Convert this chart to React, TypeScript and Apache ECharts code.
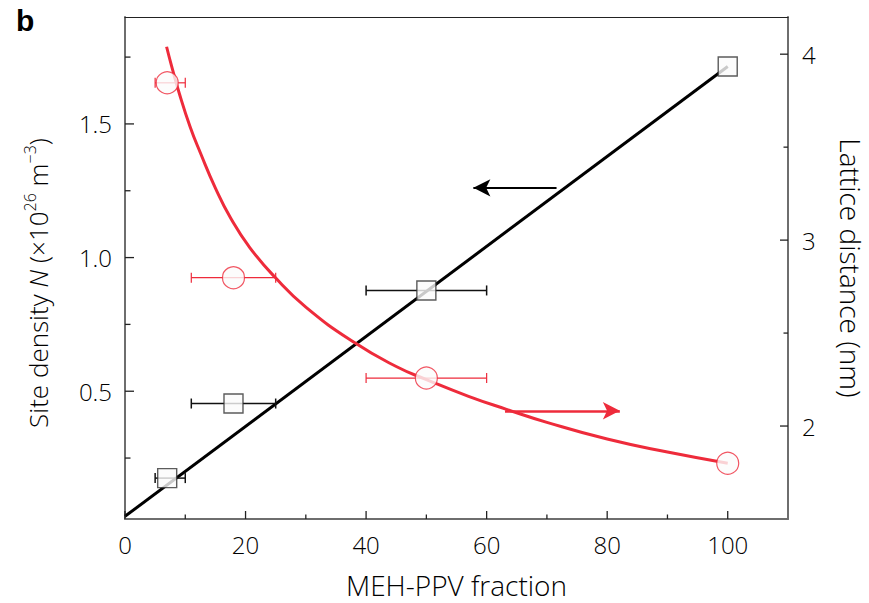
import React, { useEffect, useRef } from "react";
import * as echarts from "echarts";

// ---- data ----
const fraction = [7, 18, 50, 100];
const siteDensity = [0.175, 0.454, 0.877, 1.715];
const densityErrLow = [5, 11, 40, 100];
const densityErrHigh = [10, 25, 60, 100];

const latticeDistance = [3.846, 2.798, 2.258, 1.8];
const latticeErrLow = [5, 11, 40, 100];
const latticeErrHigh = [10, 25, 60, 100];

const fitX = [0, 100];
const fitDensity = [0.032, 1.715];

const curveX = [6.9, 7.7, 9, 10.8, 12.5, 15, 17.5, 20.7, 24.9, 30, 38, 45, 50, 57, 63.3, 70, 80, 90, 100];
const curveDistance = [4.04, 3.94, 3.79, 3.61, 3.47, 3.28, 3.12, 2.96, 2.8, 2.64, 2.45, 2.32, 2.25, 2.16, 2.09, 2.02, 1.93, 1.86, 1.8];

const densityArrowX = [71.6, 57.8];
const densityArrowY = 1.261;
const latticeArrowX = [63.05, 82.1];
const latticeArrowY = 2.082;

const xMajorTicks = [0, 20, 40, 60, 80, 100];
const xMinorTicks = [10, 30, 50, 70, 90];
const leftMajorTicks = [0.5, 1.0, 1.5];
const leftMinorTicks = [0.25, 0.75, 1.25, 1.75];
const rightMajorTicks = [2, 3, 4];
const rightMinorTicks = [2.5, 3.5];

const RED = "#EE2B3B";
const AXIS = "#6e6e6e";
const FONT = '"Open Sans", "Noto Sans", sans-serif';
const TXT = "#000";

const X_MIN = 0, X_MAX = 110;
const L_MIN = 0.022, L_MAX = 1.9;
const R_MIN = 1.5, R_MAX = 4.2;

function errorData(xs: number[], ys: number[], lo: number[], hi: number[]) {
  const out: number[][] = [];
  for (let i = 0; i < xs.length; i++) {
    if (lo[i] !== hi[i]) out.push([xs[i], ys[i], lo[i], hi[i]]);
  }
  return out;
}

function makeErrorRender(color: string, width: number) {
  return (params: any, api: any) => {
    const y = api.value(1);
    const p1 = api.coord([api.value(2), y]);
    const p2 = api.coord([api.value(3), y]);
    const h = 5;
    const style = { stroke: color, lineWidth: width, fill: "none" };
    return {
      type: "group",
      children: [
        { type: "line", shape: { x1: p1[0], y1: p1[1], x2: p2[0], y2: p2[1] }, style },
        { type: "line", shape: { x1: p1[0], y1: p1[1] - h, x2: p1[0], y2: p1[1] + h }, style },
        { type: "line", shape: { x1: p2[0], y1: p2[1] - h, x2: p2[0], y2: p2[1] + h }, style },
      ],
    };
  };
}

const TICK_STYLE = { stroke: "#222", lineWidth: 1.3, fill: "none" };

// side: 0 = bottom (x), 1 = left (y), 2 = right (y)
function makeTickRender(side: number) {
  return (params: any, api: any) => {
    const v = api.value(0);
    const len = api.value(1);
    let shape;
    if (side === 0) {
      const p = api.coord([v, L_MIN]);
      shape = { x1: p[0], y1: p[1], x2: p[0], y2: p[1] - len };
    } else if (side === 1) {
      const p = api.coord([X_MIN, v]);
      shape = { x1: p[0], y1: p[1], x2: p[0] + len, y2: p[1] };
    } else {
      const p = api.coord([X_MAX, v]);
      shape = { x1: p[0], y1: p[1], x2: p[0] - len, y2: p[1] };
    }
    return { type: "line", shape, style: TICK_STYLE };
  };
}

function tickData(major: number[], minor: number[], majorLen: number, minorLen: number) {
  return [...major.map((v) => [v, majorLen]), ...minor.map((v) => [v, minorLen])];
}

export default function App() {
  const ref = useRef<HTMLDivElement>(null);
  useEffect(() => {
    if (!ref.current) return;
    const chart = echarts.init(ref.current, undefined, { renderer: "svg" });
    const labelStyle = { fontFamily: FONT, fontSize: 24, color: TXT, fontWeight: 300 as any };
    const nameBase = { fontFamily: FONT, fontSize: 26, color: TXT, fontWeight: 300 as any, lineHeight: 32 };
    const option: any = {
      animation: false,
      grid: { left: 125, right: 81, top: 17, bottom: 84, outerBoundsMode: "none" },
      graphic: [
        {
          type: "text",
          left: 16,
          top: 5,
          style: { text: "b", font: 'bold 30px "Liberation Sans", Arial, sans-serif', fill: "#000" },
        },
      ],
      xAxis: [
        {
          type: "value",
          position: "bottom",
          min: X_MIN,
          max: X_MAX,
          name: "MEH-PPV fraction",
          nameLocation: "middle",
          nameGap: 52,
          nameTextStyle: { fontFamily: FONT, fontSize: 28, color: TXT, fontWeight: 300 },
          axisLine: { show: true, onZero: false, lineStyle: { color: AXIS, width: 2 } },
          axisTick: { show: false },
          axisLabel: { show: true, customValues: xMajorTicks, margin: 13, ...labelStyle },
          splitLine: { show: false },
        },
        {
          type: "value",
          position: "top",
          min: X_MIN,
          max: X_MAX,
          axisLine: { show: true, onZero: false, lineStyle: { color: "#222", width: 1.2 } },
          axisTick: { show: false },
          axisLabel: { show: false },
          splitLine: { show: false },
        },
      ],
      yAxis: [
        {
          type: "value",
          position: "left",
          min: L_MIN,
          max: L_MAX,
          name: "{a|Site density }{i|N}{a| (×10}{s|26}{a| m}{s|−3}{a|)}",
          nameLocation: "middle",
          nameRotate: 90,
          nameGap: 71,
          nameTextStyle: {
            padding: [0, 30, 0, 0],
            rich: {
              a: { ...nameBase },
              i: { ...nameBase, fontStyle: "italic" },
              s: { fontFamily: FONT, fontSize: 16, color: TXT, fontWeight: 300, lineHeight: 20, verticalAlign: "top" },
            },
          },
          axisLine: { show: true, onZero: false, lineStyle: { color: AXIS, width: 2 } },
          axisTick: { show: false },
          axisLabel: {
            show: true,
            customValues: leftMajorTicks,
            margin: 13,
            formatter: (v: number) => v.toFixed(1),
            ...labelStyle,
          },
          splitLine: { show: false },
        },
        {
          type: "value",
          position: "right",
          min: R_MIN,
          max: R_MAX,
          name: "Lattice distance (nm)",
          nameLocation: "middle",
          nameRotate: -90,
          nameGap: 49,
          nameTextStyle: { fontFamily: FONT, fontSize: 28, color: TXT, fontWeight: 300 },
          axisLine: { show: true, onZero: false, lineStyle: { color: AXIS, width: 2 } },
          axisTick: { show: false },
          axisLabel: {
            show: true,
            customValues: rightMajorTicks,
            margin: 14,
            formatter: (v: number) => String(v),
            ...labelStyle,
          },
          splitLine: { show: false },
        },
      ],
      series: [
        {
          type: "custom",
          xAxisIndex: 0,
          yAxisIndex: 0,
          data: tickData(xMajorTicks, xMinorTicks, 8, 4.5),
          encode: { x: 0 },
          renderItem: makeTickRender(0),
          z: 5,
          silent: true,
        },
        {
          type: "custom",
          xAxisIndex: 0,
          yAxisIndex: 0,
          data: tickData(leftMajorTicks, leftMinorTicks, 9, 5.5),
          encode: { y: 0 },
          renderItem: makeTickRender(1),
          z: 5,
          silent: true,
        },
        {
          type: "custom",
          xAxisIndex: 0,
          yAxisIndex: 1,
          data: tickData(rightMajorTicks, rightMinorTicks, 8, 4.5),
          encode: { y: 0 },
          renderItem: makeTickRender(2),
          z: 5,
          silent: true,
        },
        {
          type: "line",
          xAxisIndex: 0,
          yAxisIndex: 0,
          data: fitX.map((x, i) => [x, fitDensity[i]]),
          showSymbol: false,
          symbol: "none",
          lineStyle: { color: "#000", width: 3 },
          z: 2,
          silent: true,
          markLine: {
            silent: true,
            symbol: ["none", "arrow"],
            symbolSize: [13, 17],
            label: { show: false },
            lineStyle: { color: "#000", width: 2, type: "solid" },
            data: [[{ coord: [densityArrowX[0], densityArrowY] }, { coord: [densityArrowX[1], densityArrowY] }]],
          },
        },
        {
          type: "line",
          xAxisIndex: 0,
          yAxisIndex: 1,
          data: curveX.map((x, i) => [x, curveDistance[i]]),
          smooth: 0.5,
          showSymbol: false,
          symbol: "none",
          lineStyle: { color: RED, width: 3 },
          z: 3,
          silent: true,
          markLine: {
            silent: true,
            symbol: ["none", "arrow"],
            symbolSize: [13, 17],
            label: { show: false },
            lineStyle: { color: RED, width: 2.5, type: "solid" },
            data: [[{ coord: [latticeArrowX[0], latticeArrowY] }, { coord: [latticeArrowX[1], latticeArrowY] }]],
          },
        },
        {
          type: "custom",
          xAxisIndex: 0,
          yAxisIndex: 0,
          data: errorData(fraction, siteDensity, densityErrLow, densityErrHigh),
          encode: { x: 0, y: 1 },
          renderItem: makeErrorRender("#111", 1.5),
          z: 4,
          silent: true,
        },
        {
          type: "custom",
          xAxisIndex: 0,
          yAxisIndex: 1,
          data: errorData(fraction, latticeDistance, latticeErrLow, latticeErrHigh),
          encode: { x: 0, y: 1 },
          renderItem: makeErrorRender(RED, 1.2),
          z: 4,
          silent: true,
        },
        {
          type: "scatter",
          xAxisIndex: 0,
          yAxisIndex: 0,
          data: fraction.map((x, i) => [x, siteDensity[i]]),
          symbol: "rect",
          symbolSize: 19,
          itemStyle: { color: "#fbfbfb", borderColor: "#333", borderWidth: 1.4 },
          z: 6,
          silent: true,
        },
        {
          type: "scatter",
          xAxisIndex: 0,
          yAxisIndex: 1,
          data: fraction.map((x, i) => [x, latticeDistance[i]]),
          symbol: "circle",
          symbolSize: 22,
          itemStyle: { color: "#fbfbfb", borderColor: RED, borderWidth: 1.2 },
          z: 6,
          silent: true,
        },
      ],
    };
    chart.setOption(option);
    return () => chart.dispose();
  }, []);
  return (
    <div
      ref={ref}
      style={{ position: "absolute", left: 0, top: 0, width: 869, height: 603, background: "#fff" }}
    />
  );
}
